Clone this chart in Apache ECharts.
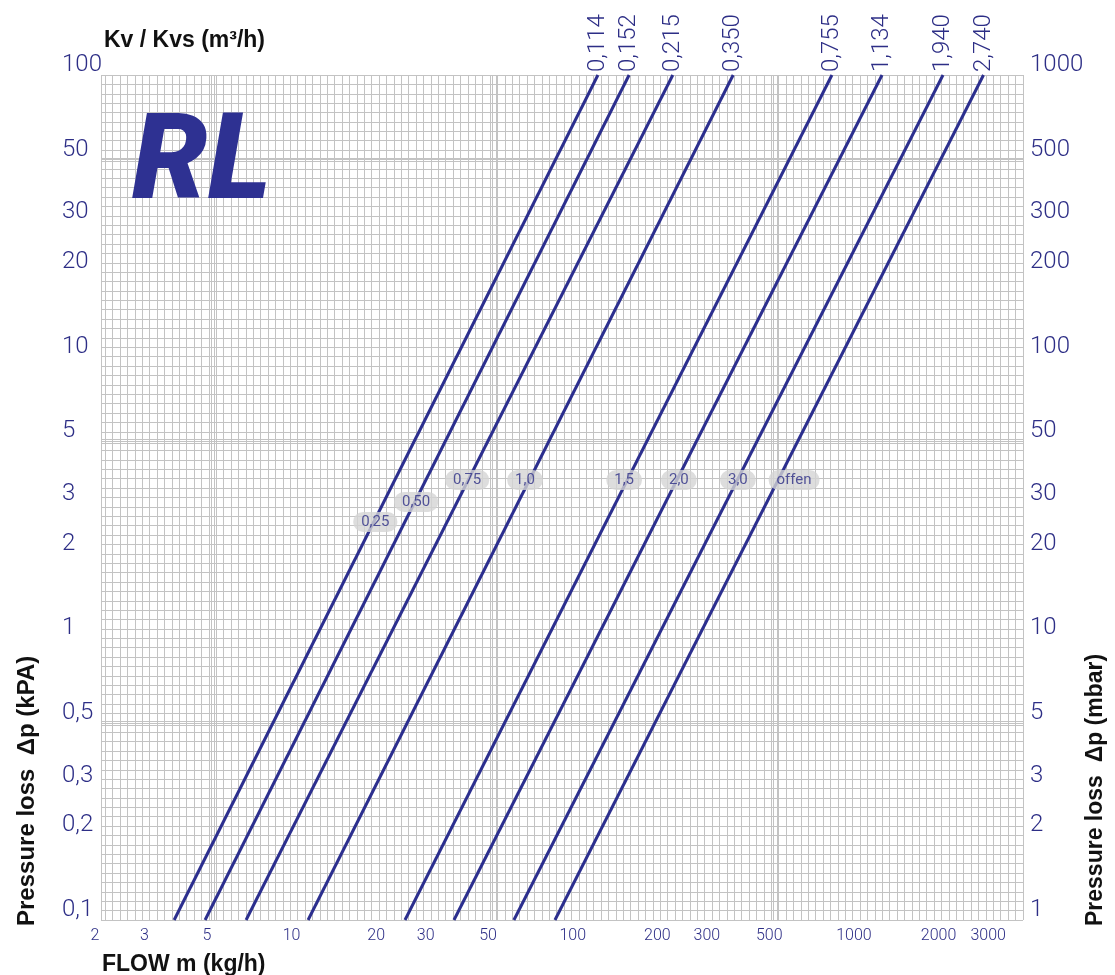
<!DOCTYPE html>
<html><head><meta charset="utf-8">
<script src="https://cdn.jsdelivr.net/npm/echarts@6/dist/echarts.min.js"></script>
<style>html,body{margin:0;padding:0;background:#fff}#c{width:1115px;height:975px}</style>
</head><body><div id="c"></div>
<script>
// ---- data ----
const kvLabels = ['0,114','0,152','0,215','0,350','0,755','1,134','1,940','2,740'];
const flowAtBottom = [3.64, 4.69, 6.56, 10.9, 24.1, 36.0, 58.8, 82.3];   // kg/h at 0.1 kPa
const flowAtTop = [117, 151, 216, 354, 795, 1198, 1974, 2750];        // kg/h at 100 kPa
const dpBottom = 0.1;
const dpTop = 100;
const presetNames = ['0,25','0,50','0,75','1,0','1,5','2,0','3,0','offen'];
const presetFlow = [18.9, 26.4, 40.1, 64.4, 145, 227, 368, 583];
const presetDp = [2.59, 3.05, 3.65, 3.65, 3.65, 3.65, 3.65, 3.65];
const xTicks = [2,3,5,10,20,30,50,100,200,300,500,1000,2000,3000];
const yTicksKpa = [0.1,0.2,0.3,0.5,1,2,3,5,10,20,30,50,100];
const yTicksMbar = [1,2,3,5,10,20,30,50,100,200,300,500,1000];

const BLUE = '#2d2e86';
const LINE = '#2c2f8e';
const GRID = '#c3c3c3';
const XMIN = 2, XMAX = 3800, YMIN = 0.1, YMAX = 100;

// graph-paper grid (decoration)
function paper(min, max, perDecade){
  const out = [min, max];
  const k0 = Math.ceil(Math.log10(min)*perDecade), k1 = Math.floor(Math.log10(max)*perDecade);
  for(let k=k0;k<=k1;k++){ out.push(Math.pow(10, k/perDecade)); }
  for(let e=-2;e<5;e++){ const v=5*Math.pow(10,e); if(v>min&&v<max){ out.push(v*0.985); out.push(v*1.015);} }
  return out.filter(v=>v>=min&&v<=max).sort((a,b)=>a-b);
}
const xGrid = paper(XMIN, XMAX, 38);
const yGrid = paper(YMIN, YMAX, 30);

const tickFont = 'Roboto, "DejaVu Sans Condensed", sans-serif';
const plain = v => String(v).replace('.', ',');

const series = kvLabels.map((name, i) => ({
  type: 'line', name: name, xAxisIndex: 0, yAxisIndex: 0,
  data: [
    [flowAtBottom[i], dpBottom],
    { value: [flowAtTop[i], dpTop],
      label: { show: true, formatter: name, position: 'top', distance: 3, rotate: 90,
               align: 'left', verticalAlign: 'middle', fontFamily: tickFont, fontSize: 24,
               fontWeight: 300, color: BLUE } }
  ],
  symbol: 'circle', symbolSize: 0, showSymbol: true,
  label: { show: false },
  lineStyle: { color: LINE, width: 3 }, itemStyle: { color: LINE },
  silent: true, animation: false, z: 3
}));
series.push({
  type: 'scatter', xAxisIndex: 0, yAxisIndex: 0,
  data: presetNames.map((n, i) => ({ name: n, value: [presetFlow[i], presetDp[i]] })),
  symbolSize: 0, silent: true, animation: false, z: 6,
  label: { show: true, position: 'inside', formatter: '{b}', color: BLUE, fontFamily: tickFont,
           fontSize: 15, backgroundColor: '#d4d4d4', borderRadius: 10, padding: [3, 8, 2, 8] }
});

const chart = echarts.init(document.getElementById('c'), null, { renderer: 'canvas' });
chart.setOption({
  animation: false,
  backgroundColor: '#ffffff',
  grid: { left: 101, right: 92, top: 75, bottom: 55 },
  xAxis: [{
    type: 'log', logBase: 10, min: XMIN, max: XMAX,
    axisLine: { show: false },
    axisTick: { show: false, customValues: xGrid },
    splitLine: { show: true, lineStyle: { color: GRID, width: 1 } },
    axisLabel: { customValues: xTicks, formatter: plain, color: BLUE, fontSize: 16, fontFamily: tickFont, fontWeight: 300,
                 margin: 8, padding: [0, 12, 0, 0] }
  }],
  yAxis: [{
    type: 'log', logBase: 10, min: YMIN, max: YMAX, position: 'left',
    axisLine: { show: false },
    axisTick: { show: false, customValues: yGrid },
    splitLine: { show: true, lineStyle: { color: GRID, width: 1 } },
    axisLabel: { customValues: yTicksKpa, formatter: plain, color: BLUE, fontSize: 24, fontFamily: tickFont,
                 fontWeight: 300, align: 'left', verticalAlign: 'bottom', lineHeight: 20, margin: 39 }
  }, {
    type: 'log', logBase: 10, min: 1, max: 1000, position: 'right',
    axisLine: { show: false }, axisTick: { show: false }, splitLine: { show: false },
    axisLabel: { customValues: yTicksMbar, formatter: plain, color: BLUE, fontSize: 24, fontFamily: tickFont,
                 fontWeight: 300, align: 'left', verticalAlign: 'bottom', lineHeight: 20, margin: 7 }
  }],
  graphic: [
    { type: 'text', x: 132, y: 168, z: 10,
      style: { text: 'RL', font: 'italic 900 120px Roboto, "Liberation Sans", sans-serif', fill: '#2e3192',
               align: 'left', verticalAlign: 'middle' } },
    { type: 'text', x: 104, y: 41, z: 10,
      style: { text: 'Kv / Kvs (m³/h)', font: 'bold 23px "Liberation Sans", Arial, sans-serif', fill: '#111',
               align: 'left', verticalAlign: 'middle' } },
    { type: 'text', x: 102, y: 965, z: 10,
      style: { text: 'FLOW m (kg/h)', font: 'bold 23px "Liberation Sans", Arial, sans-serif', fill: '#111',
               align: 'left', verticalAlign: 'middle' } },
    { type: 'text', x: 27, y: 926, rotation: Math.PI / 2, z: 10,
      style: { text: 'Pressure loss  Δp (kPA)', font: 'bold 24px "Liberation Sans", Arial, sans-serif', fill: '#111',
               align: 'left', verticalAlign: 'middle' } },
    { type: 'text', x: 1096, y: 926, rotation: Math.PI / 2, z: 10,
      style: { text: 'Pressure loss  Δp (mbar)', font: 'bold 23px "Liberation Sans", Arial, sans-serif', fill: '#111',
               align: 'left', verticalAlign: 'middle' } }
  ],
  series: series
});
</script></body></html>
